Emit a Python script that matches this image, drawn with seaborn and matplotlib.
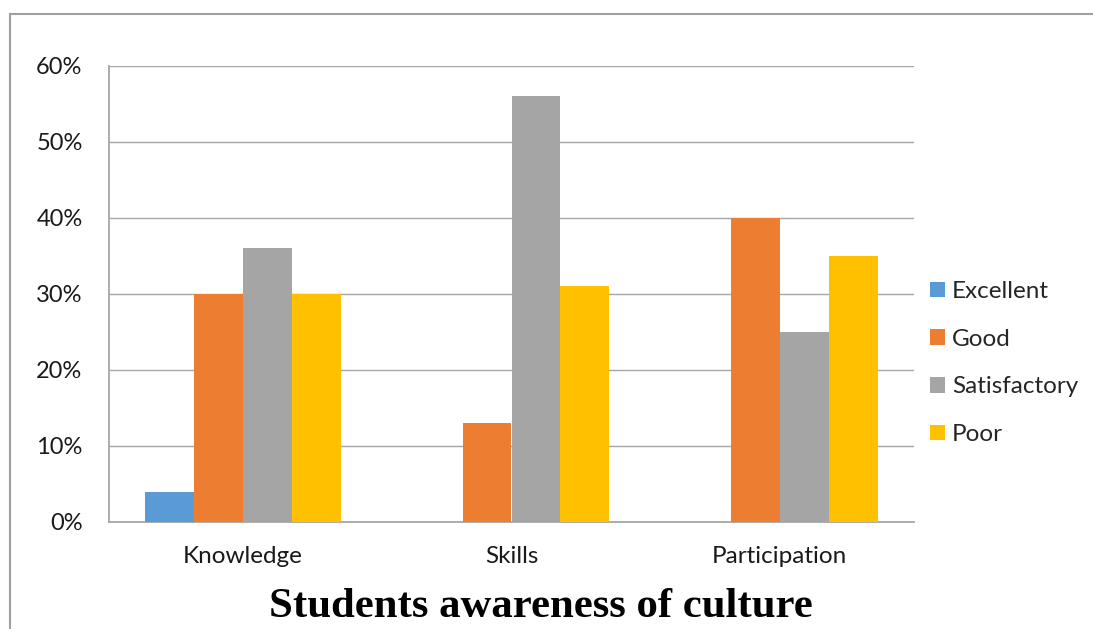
import matplotlib
matplotlib.use("Agg")
import matplotlib.pyplot as plt
import matplotlib.patches as mpatches
from matplotlib.ticker import PercentFormatter
import seaborn as sns
import pandas as pd

# Survey results per dimension, share of students in each rating
categories = ["Knowledge", "Skills", "Participation"]
ratings = ["Excellent", "Good", "Satisfactory", "Poor"]
excellent = [0.04, 0.0, 0.0]
good = [0.30, 0.13, 0.40]
satisfactory = [0.36, 0.56, 0.25]
poor = [0.30, 0.31, 0.35]
colors = ["#5B9BD5", "#ED7D31", "#A5A5A5", "#FFC000"]
yticks = [0.0, 0.1, 0.2, 0.3, 0.4, 0.5, 0.6]
title = "Students awareness of culture"

series = [excellent, good, satisfactory, poor]
df = pd.DataFrame(
    [(c, r, v[i]) for r, v in zip(ratings, series) for i, c in enumerate(categories)],
    columns=["Category", "Rating", "Value"],
)

sns.set_theme(style="white")
plt.rcParams["font.family"] = ["Lato", "DejaVu Sans"]

W, H = 1093, 629
fig = plt.figure(figsize=(W / 100, H / 100), dpi=100)
ax = fig.add_axes([109 / W, 1 - 522 / H, (914 - 109) / W, (522 - 66) / H])

sns.barplot(
    data=df, x="Category", y="Value", hue="Rating",
    order=categories, hue_order=ratings, palette=colors,
    saturation=1, width=0.73, errorbar=None, ax=ax, zorder=3,
    linewidth=0, edgecolor="none",
)

ax.set_ylim(0, 0.6)
ax.set_xlim(-0.5, 2.5)
ax.set_yticks(yticks)
ax.yaxis.set_major_formatter(PercentFormatter(1.0, decimals=0))
ax.grid(axis="y", color="#A6A6A6", linewidth=1.0, zorder=0)
ax.grid(axis="x", visible=False)
ax.set_axisbelow(True)
ax.set_xlabel("")
ax.set_ylabel("")
for side in ["top", "right"]:
    ax.spines[side].set_visible(False)
for side in ["left", "bottom"]:
    ax.spines[side].set_color("#A6A6A6")
    ax.spines[side].set_linewidth(1.3)
ax.tick_params(axis="y", length=0, pad=19, labelsize=17, labelcolor="#1a1a1a")
ax.tick_params(axis="x", length=0, pad=17, labelsize=17.5, labelcolor="#1a1a1a")

handles = [mpatches.Patch(facecolor=c, edgecolor="none") for c in colors]
ax.legend(
    handles, ratings, loc="upper left",
    bbox_to_anchor=(930 / W, 1 - 281 / H), bbox_transform=fig.transFigure,
    frameon=False, fontsize=17.5, handlelength=0.6, handleheight=0.6,
    handletextpad=0.3, labelspacing=1.1, borderaxespad=0, borderpad=0,
)

fig.text(541 / W, 1 - 607 / H, title, ha="center", va="center",
         fontsize=30.8, fontweight="bold", family=["Liberation Serif", "DejaVu Serif"],
         color="black")

# Outer chart frame
fig.patches.append(mpatches.Rectangle(
    (10 / W, -0.1), 1.2, 1 - 14 / H + 0.1, transform=fig.transFigure,
    fill=False, edgecolor="#A0A0A0", linewidth=1.5, zorder=0))

fig.savefig("out.png", dpi=100)
